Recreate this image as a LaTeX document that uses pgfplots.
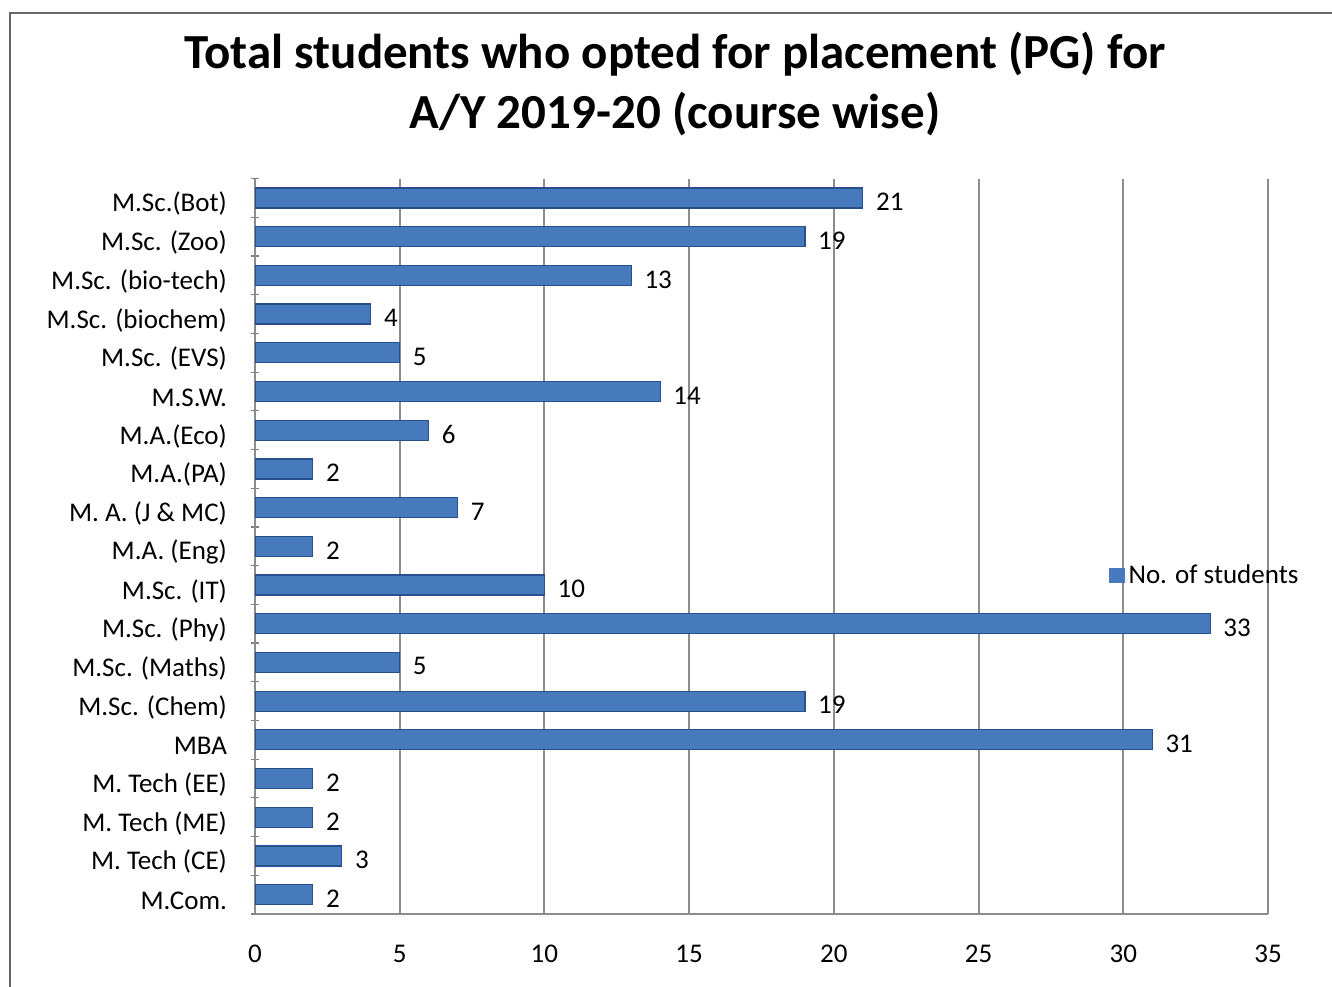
\documentclass[border=0pt]{standalone}
\usepackage{fontspec}
\setmainfont{Carlito}
\usepackage{pgfplots}
\pgfplotsset{compat=1.18}
\definecolor{barblue}{RGB}{70,122,188}
\definecolor{baredge}{RGB}{40,80,140}
\begin{document}
\begin{tikzpicture}
\useasboundingbox (0,0) rectangle (666pt,493pt);
\draw[black!60, line width=0.8pt] (5pt,-5pt) -- (5pt,486.5pt) -- (670pt,486.5pt);
\node[font=\fontsize{24.5}{30}\selectfont\bfseries, align=center] at (337.5pt,451pt) {Total students who opted for placement (PG) for\\A/Y 2019-20 (course wise)};
\begin{axis}[
  at={(127.5pt,36pt)}, anchor=south west,
  scale only axis, width=506.5pt, height=367.7pt,
  xbar, bar width=10pt,
  xmin=0, xmax=35, ymin=-0.5, ymax=18.5, y dir=reverse,
  xtick={0,5,...,35},
  ytick={0,...,18},
  yticklabels={M.Sc.(Bot), M.Sc. (Zoo), M.Sc. (bio-tech), M.Sc. (biochem), M.Sc. (EVS), M.S.W., M.A.(Eco), M.A.(PA), M. A. (J \& MC), M.A. (Eng), M.Sc. (IT), M.Sc. (Phy), M.Sc. (Maths), M.Sc. (Chem), MBA, M. Tech (EE), M. Tech (ME), M. Tech (CE), M.Com.},
  minor ytick={-0.5,0.5,...,18.5},
  major tick length=0pt, minor tick length=4pt,
  tick align=outside,
  minor tick style={black!50, line width=0.6pt},
  axis x line=bottom, axis y line=left,
  axis line style={-, black!45, line width=1pt},
  xmajorgrids, grid style={black!45, line width=1pt},
  tick label style={font=\fontsize{13.5}{16}\selectfont, text=black},
  y tick label style={xshift=-10.5pt, yshift=-3pt},
  x tick label style={yshift=-12pt},
  /pgf/number format/assume math mode=true,
  nodes near coords,
  every node near coord/.append style={font=\fontsize{13.5}{16}\selectfont, anchor=west, xshift=3pt, yshift=-2pt, text=black},
  legend style={at={(0.843,0.46)}, anchor=west, draw=none, fill=none, font=\fontsize{13.5}{16}\selectfont, inner sep=0pt},
  legend image code/.code={\fill[barblue] (0pt,-3.5pt) rectangle (7pt,3.5pt);},
]
\addplot[fill=barblue, draw=baredge, line width=0.6pt] coordinates {
(21,0) (19,1) (13,2) (4,3) (5,4) (14,5) (6,6) (2,7) (7,8) (2,9) (10,10) (33,11) (5,12) (19,13) (31,14) (2,15) (2,16) (3,17) (2,18)
};
\addlegendentry{No. of students}
\end{axis}
\end{tikzpicture}
\end{document}
